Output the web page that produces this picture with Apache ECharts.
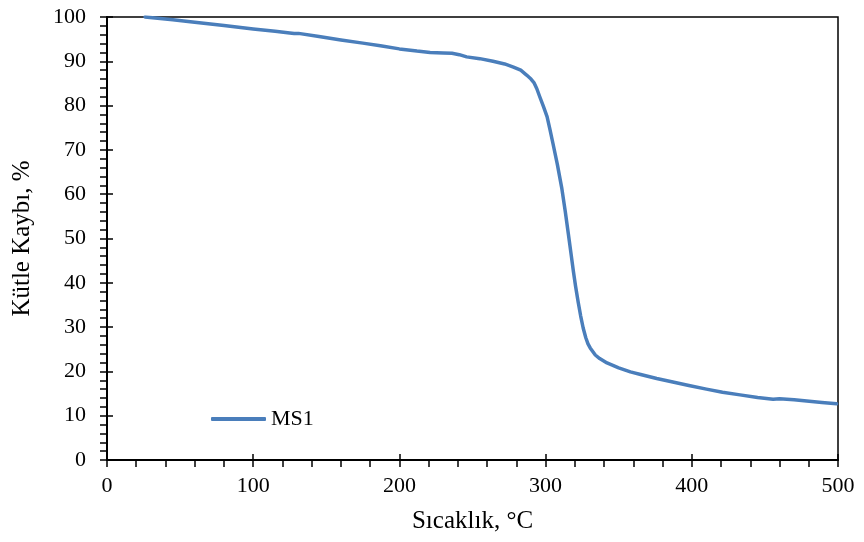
<!DOCTYPE html>
<html>
<head>
<meta charset="utf-8">
<script src="https://cdn.jsdelivr.net/npm/echarts@6/dist/echarts.min.js"></script>
<style>
  html, body { margin: 0; padding: 0; background: #fff; }
  #chart { width: 864px; height: 542px; }
</style>
</head>
<body>
<div id="chart"></div>
<script>
// Thermogravimetric curve of sample MS1: temperature (°C) vs. remaining mass (%)
const seriesName = 'MS1';
const temperature = [26, 45, 60, 80, 100, 115, 125, 128, 131, 145, 160, 175, 187, 200, 212, 221, 230, 236, 241, 246, 255, 264, 272, 278, 283, 287, 290, 292, 294, 296, 298.5, 301, 303, 305, 308, 311, 313.5, 315.5, 317.5, 319, 320.5, 322.3, 324, 325.7, 327.5, 329, 330.5, 332, 334, 337, 342, 350, 358, 365, 376, 387, 398, 410, 421, 433, 445, 455.6, 460, 470, 478.6, 489, 499];
const massLoss    = [100, 99.4, 98.8, 98.1, 97.3, 96.8, 96.4, 96.3, 96.3, 95.6, 94.8, 94.1, 93.5, 92.8, 92.3, 92.0, 91.9, 91.8, 91.5, 91.0, 90.6, 90.0, 89.4, 88.7, 88.0, 86.9, 86.0, 85.2, 83.8, 82.0, 79.8, 77.5, 74.6, 71.5, 66.8, 61.5, 56.0, 51.2, 46.3, 42.6, 39.2, 35.6, 32.5, 29.8, 27.6, 26.2, 25.3, 24.6, 23.7, 22.9, 21.9, 20.8, 19.9, 19.3, 18.4, 17.6, 16.8, 16.0, 15.3, 14.7, 14.1, 13.7, 13.8, 13.6, 13.3, 13.0, 12.7];
const xTicks = [0, 100, 200, 300, 400, 500];
const yTicks = [0, 10, 20, 30, 40, 50, 60, 70, 80, 90, 100];

const points = temperature.map((t, i) => [t, massLoss[i]]);
const font = 'Liberation Serif';

const chart = echarts.init(document.getElementById('chart'));
chart.setOption({
  animation: false,
  backgroundColor: '#fff',
  grid: { left: 107, right: 26, top: 17, bottom: 82, show: true, borderColor: '#000', borderWidth: 1.5 },
  legend: {
    data: [seriesName], left: 206, top: 403, itemWidth: 55, itemHeight: 4, itemGap: 3,
    icon: 'roundRect',
    textStyle: { fontFamily: font, fontSize: 22, color: '#000' }
  },
  xAxis: [{
    type: 'value', min: xTicks[0], max: xTicks[xTicks.length - 1], interval: 100,
    name: 'Sıcaklık, °C', nameLocation: 'middle', nameGap: 49,
    nameTextStyle: { fontFamily: font, fontSize: 25, color: '#000' },
    axisLine: { onZero: false, lineStyle: { color: '#000', width: 2 } },
    axisTick: { length: 7, lineStyle: { color: '#000', width: 1.5 } },
    minorTick: { show: true, splitNumber: 5, length: 7, lineStyle: { color: '#000', width: 1.5 } },
    axisLabel: { fontFamily: font, fontSize: 22, color: '#000', margin: 15 },
    splitLine: { show: false }
  }, {
    // inward half of the crossing major ticks
    type: 'value', min: 0, max: 500, interval: 100, position: 'bottom',
    axisLine: { show: false }, axisLabel: { show: false },
    axisTick: { inside: true, length: 6, lineStyle: { color: '#000', width: 1.5 } },
    splitLine: { show: false }
  }],
  yAxis: [{
    type: 'value', min: yTicks[0], max: yTicks[yTicks.length - 1], interval: 10,
    name: 'Kütle Kaybı, %', nameLocation: 'middle', nameGap: 72,
    nameTextStyle: { fontFamily: font, fontSize: 25, color: '#000' },
    axisLine: { onZero: false, lineStyle: { color: '#000', width: 2 } },
    axisTick: { length: 7, lineStyle: { color: '#000', width: 1.5 } },
    minorTick: { show: true, splitNumber: 5, length: 7, lineStyle: { color: '#000', width: 1.5 } },
    axisLabel: { fontFamily: font, fontSize: 22, color: '#000', margin: 21 },
    splitLine: { show: false }
  }, {
    type: 'value', min: 0, max: 100, interval: 10, position: 'left',
    axisLine: { show: false }, axisLabel: { show: false },
    axisTick: { inside: true, length: 6, lineStyle: { color: '#000', width: 1.5 } },
    splitLine: { show: false }
  }],
  series: [{
    name: seriesName, type: 'line', data: points, smooth: false,
    showSymbol: false, symbol: 'none',
    lineStyle: { color: '#4a7ebb', width: 3.5, join: 'round', cap: 'round' },
    itemStyle: { color: '#4a7ebb' }
  }]
});
</script>
</body>
</html>
